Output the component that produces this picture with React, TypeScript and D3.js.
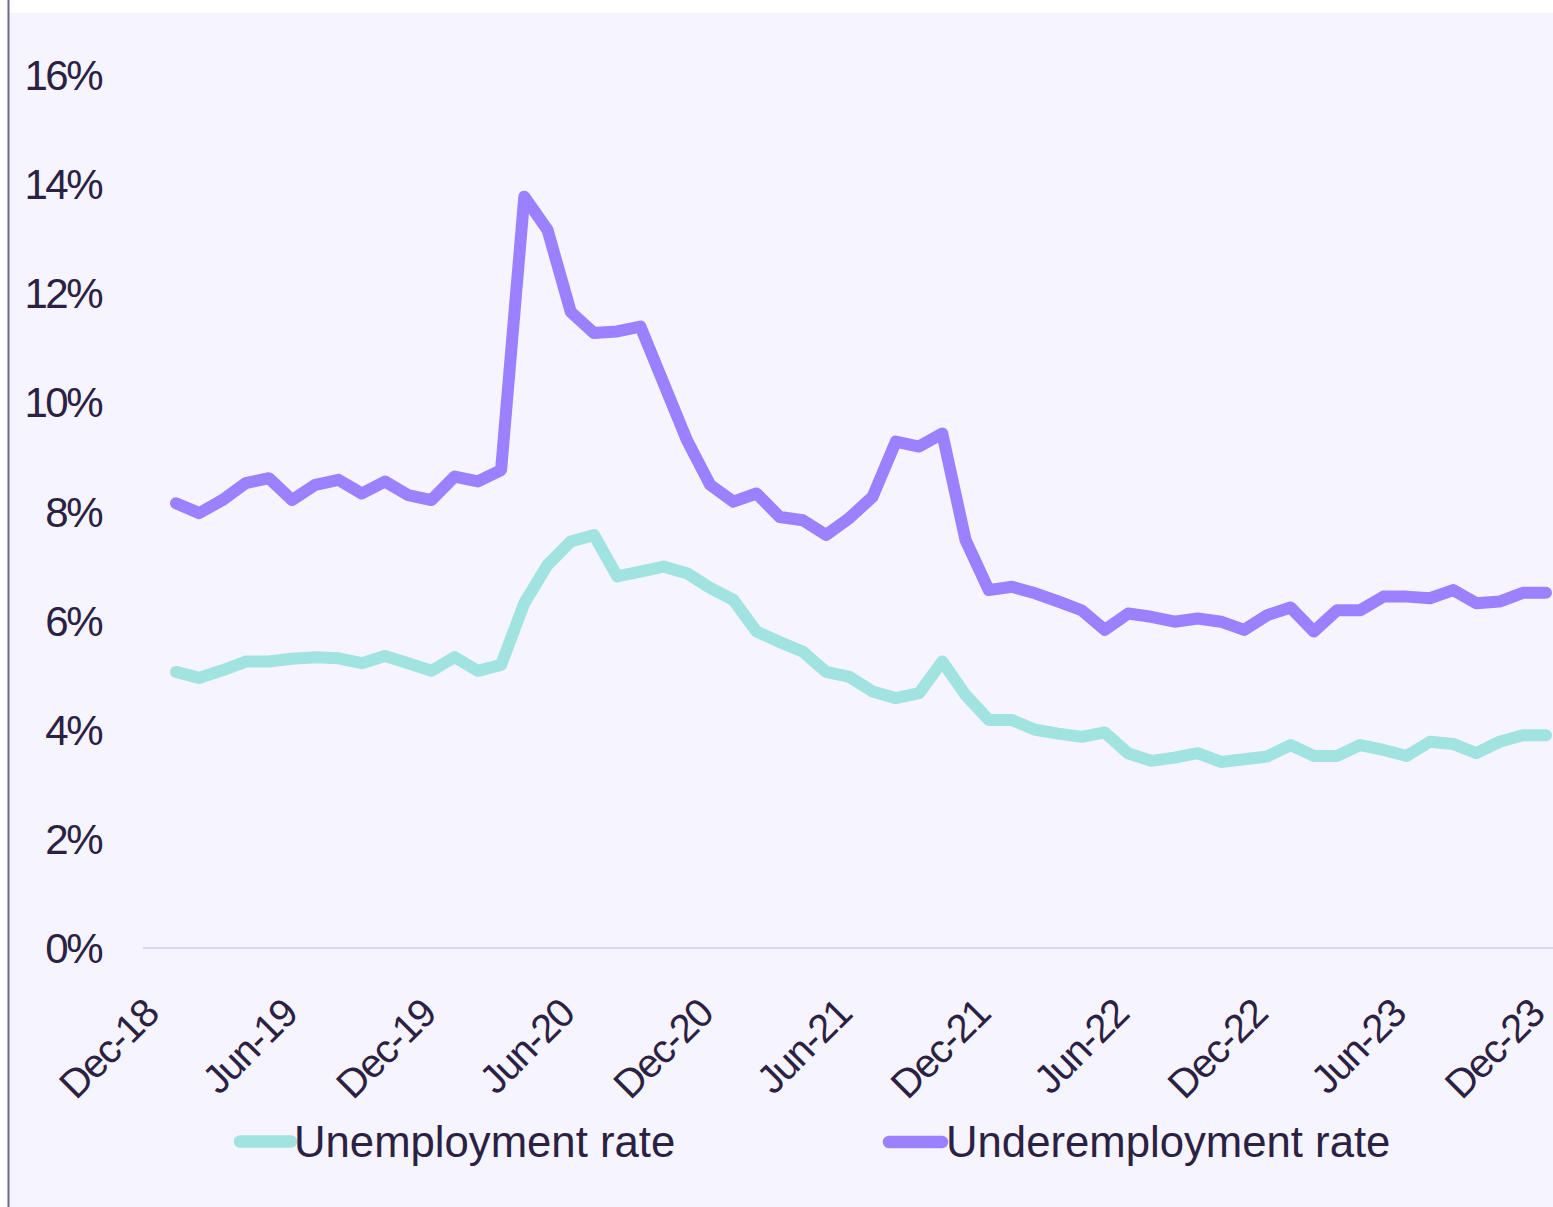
import React from "react";
import * as d3 from "d3";

const months: string[] = [
  "Jan-19","Feb-19","Mar-19","Apr-19","May-19","Jun-19","Jul-19","Aug-19","Sep-19","Oct-19","Nov-19","Dec-19",
  "Jan-20","Feb-20","Mar-20","Apr-20","May-20","Jun-20","Jul-20","Aug-20","Sep-20","Oct-20","Nov-20","Dec-20",
  "Jan-21","Feb-21","Mar-21","Apr-21","May-21","Jun-21","Jul-21","Aug-21","Sep-21","Oct-21","Nov-21","Dec-21",
  "Jan-22","Feb-22","Mar-22","Apr-22","May-22","Jun-22","Jul-22","Aug-22","Sep-22","Oct-22","Nov-22","Dec-22",
  "Jan-23","Feb-23","Mar-23","Apr-23","May-23","Jun-23","Jul-23","Aug-23","Sep-23","Oct-23","Nov-23","Dec-23",
];

const unemployment: number[] = [
  5.06, 4.95, 5.09, 5.25, 5.25, 5.3, 5.33, 5.31, 5.22, 5.35, 5.22, 5.08,
  5.33, 5.08, 5.19, 6.32, 7.02, 7.45, 7.57, 6.81, 6.9, 6.99, 6.87, 6.6,
  6.38, 5.8, 5.61, 5.43, 5.06, 4.97, 4.7, 4.58, 4.67, 5.25, 4.64, 4.18,
  4.18, 4.0, 3.93, 3.87, 3.95, 3.57, 3.43, 3.49, 3.57, 3.41, 3.46, 3.51,
  3.72, 3.52, 3.52, 3.72, 3.63, 3.52, 3.78, 3.74, 3.57, 3.78, 3.9, 3.9,
];

const underemployment: number[] = [
  8.15, 7.97, 8.21, 8.52, 8.61, 8.21, 8.49, 8.58, 8.33, 8.55, 8.3, 8.21,
  8.64, 8.55, 8.76, 13.77, 13.16, 11.66, 11.27, 11.3, 11.39, 10.35, 9.31, 8.49,
  8.18, 8.33, 7.9, 7.84, 7.57, 7.88, 8.27, 9.28, 9.19, 9.43, 7.48, 6.56,
  6.62, 6.5, 6.35, 6.19, 5.83, 6.13, 6.07, 5.98, 6.04, 5.98, 5.83, 6.1,
  6.24, 5.8, 6.19, 6.19, 6.44, 6.44, 6.41, 6.56, 6.32, 6.35, 6.51, 6.51,
];

const xTickLabels: string[] = [
  "Dec-18","Jun-19","Dec-19","Jun-20","Dec-20","Jun-21","Dec-21","Jun-22","Dec-22","Jun-23","Dec-23",
];
const yTicks: number[] = [0, 2, 4, 6, 8, 10, 12, 14, 16];

const seriesNames: string[] = ["Unemployment rate", "Underemployment rate"];
const seriesColors: string[] = ["#a1e3e0", "#9b80ff"];

const W = 1553;
const H = 1207;
const TEXT = "#2b2143";
const FONT = "'Liberation Sans', Arial, sans-serif";

export default function App() {
  // month index: 0 = Jan-19 ... 59 = Dec-23; -1 = Dec-18
  const x = d3.scaleLinear().domain([0, months.length - 1]).range([176, 1546]);
  const y = d3.scaleLinear().domain([0, 16]).range([948, 75]);

  const line = d3
    .line<number>()
    .x((_, i) => x(i))
    .y((d) => y(d))
    .curve(d3.curveLinear);

  const tickIdx = xTickLabels.map((_, k) => -1 + k * 6);

  const series = [unemployment, underemployment];

  return (
    <svg
      width={W}
      height={H}
      style={{ position: "absolute", left: 0, top: 0, display: "block" }}
    >
      <rect x={0} y={0} width={W} height={H} fill="#ffffff" />
      <rect x={9} y={13} width={W - 9} height={H - 13} fill="#f6f4fe" />
      <line x1={8.5} x2={8.5} y1={0} y2={H} stroke="#6f6688" strokeWidth={2} />

      {/* zero gridline */}
      <line x1={143} x2={W} y1={y(0)} y2={y(0)} stroke="#ddd6f1" strokeWidth={2} />

      {/* y tick labels */}
      {yTicks.map((t) => (
        <text
          key={t}
          x={101}
          y={y(t)}
          dy="0.36em"
          textAnchor="end"
          fontFamily={FONT}
          fontSize={42}
          letterSpacing={-2.5}
          fill={TEXT}
        >
          {`${t}%`}
        </text>
      ))}

      {/* x tick labels */}
      {xTickLabels.map((lab, k) => {
        const px = x(tickIdx[k]) + 8 - k * 0.75;
        const py = 1016;
        return (
          <text
            key={lab}
            x={0}
            y={0}
            transform={`translate(${px},${py}) rotate(-45)`}
            textAnchor="end"
            fontFamily={FONT}
            fontSize={40}
            letterSpacing={-1.5}
            fill={TEXT}
          >
            {lab}
          </text>
        );
      })}

      {/* lines */}
      {series.map((s, k) => (
        <path
          key={seriesNames[k]}
          d={line(s) || ""}
          fill="none"
          stroke={seriesColors[k]}
          strokeWidth={12}
          strokeLinejoin="round"
          strokeLinecap="round"
        />
      ))}

      {/* legend */}
      <g>
        <line x1={240} x2={291} y1={1141.5} y2={1141.5} stroke={seriesColors[0]} strokeWidth={12.5} strokeLinecap="round" />
        <text x={294} y={1157} fontFamily={FONT} fontSize={43.7} fill={TEXT}>
          {seriesNames[0]}
        </text>
        <line x1={889} x2={942} y1={1142} y2={1142} stroke={seriesColors[1]} strokeWidth={12.5} strokeLinecap="round" />
        <text x={946} y={1157} fontFamily={FONT} fontSize={43.7} fill={TEXT}>
          {seriesNames[1]}
        </text>
      </g>
    </svg>
  );
}
